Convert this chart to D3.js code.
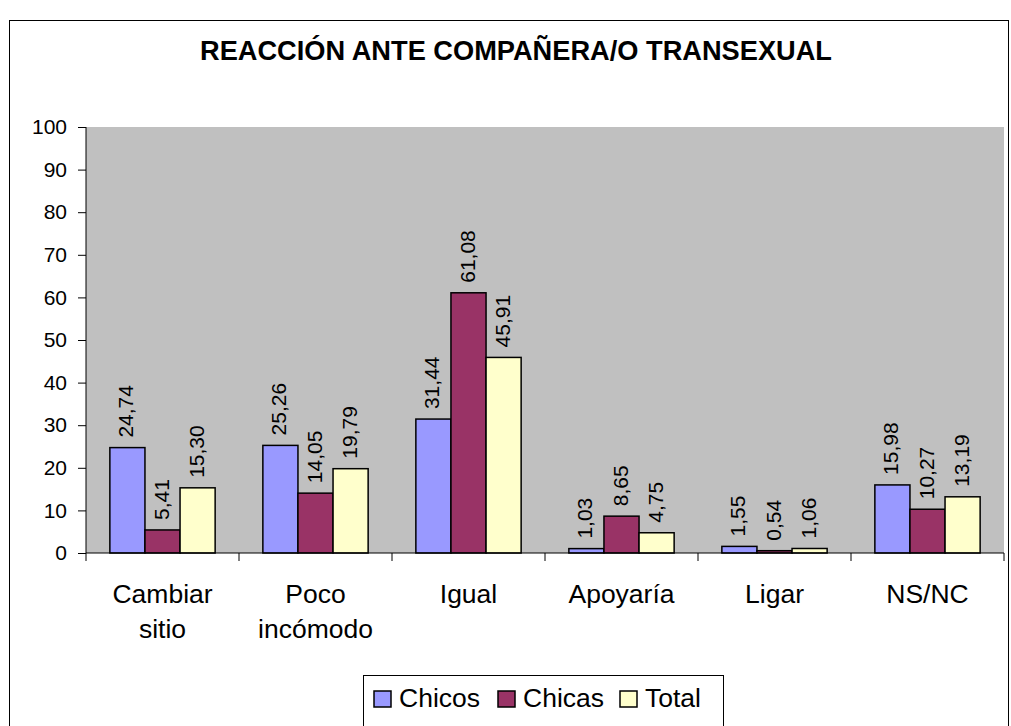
<!DOCTYPE html>
<html>
<head>
<meta charset="utf-8">
<script src="https://cdn.jsdelivr.net/npm/d3@7"></script>
<style>
  body { margin: 0; background: #fff; }
  svg { display: block; font-family: Arial, "Liberation Sans", sans-serif; }
</style>
</head>
<body>
<div id="chart"></div>
<script>
/* ── data ─────────────────────────────────────────────── */
const categories = [["Cambiar", "sitio"], ["Poco", "incómodo"], ["Igual"], ["Apoyaría"], ["Ligar"], ["NS/NC"]];
const seriesNames = ["Chicos", "Chicas", "Total"];
const chicos = [24.74, 25.26, 31.44, 1.03, 1.55, 15.98];
const chicas = [5.41, 14.05, 61.08, 8.65, 0.54, 10.27];
const total  = [15.30, 19.79, 45.91, 4.75, 1.06, 13.19];
const yTicks = [0, 10, 20, 30, 40, 50, 60, 70, 80, 90, 100];
const colors = ["#9999FF", "#993366", "#FFFFCC"];

const W = 1011, H = 726;
const plot = { left: 86, top: 127, right: 1004, bottom: 553 };
const FONT = "Arial, 'Liberation Sans', sans-serif";

const svg = d3.select("#chart").append("svg")
  .attr("width", W).attr("height", H);

// outer chart border
svg.append("rect")
  .attr("x", 9.5).attr("y", 20.5)
  .attr("width", W - 12).attr("height", H)
  .attr("fill", "#fff").attr("stroke", "#000").attr("stroke-width", 1);

svg.append("text")
  .attr("x", 516).attr("y", 60)
  .attr("text-anchor", "middle")
  .attr("font-size", 27).attr("font-weight", "bold")
  .attr("textLength", 632).attr("lengthAdjust", "spacingAndGlyphs")
  .text("REACCIÓN ANTE COMPAÑERA/O TRANSEXUAL");

/* ── scales ───────────────────────────────────────────── */
const x = d3.scaleBand()
  .domain(d3.range(categories.length))
  .range([plot.left, plot.right]);

const xInner = d3.scaleBand()
  .domain(d3.range(seriesNames.length))
  .range([0, x.bandwidth()])
  .paddingOuter(0.68).paddingInner(0);

const y = d3.scaleLinear().domain([0, 100]).range([plot.bottom, plot.top]);

// plot background
svg.append("rect")
  .attr("x", plot.left).attr("y", plot.top)
  .attr("width", plot.right - plot.left).attr("height", plot.bottom - plot.top)
  .attr("fill", "#C0C0C0");

/* ── bars ─────────────────────────────────────────────── */
const series = [chicos, chicas, total];
const groups = svg.append("g").selectAll("g")
  .data(categories)
  .join("g")
  .attr("transform", (d, i) => `translate(${x(i)},0)`);

groups.selectAll("rect")
  .data((d, i) => series.map((s, k) => ({ k, v: s[i] })))
  .join("rect")
  .attr("x", d => xInner(d.k))
  .attr("y", d => y(d.v))
  .attr("width", xInner.bandwidth())
  .attr("height", d => plot.bottom - y(d.v))
  .attr("fill", d => colors[d.k])
  .attr("stroke", "#000").attr("stroke-width", 1.5);

groups.selectAll("text.val")
  .data((d, i) => series.map((s, k) => ({ k, v: s[i] })))
  .join("text")
  .attr("class", "val")
  .attr("font-size", 21)
  .attr("transform", d => `translate(${xInner(d.k) + xInner.bandwidth() / 2 + 6},${y(d.v) - 10}) rotate(-90)`)
  .text(d => d.v.toFixed(2).replace(".", ","));

/* ── axes ─────────────────────────────────────────────── */
const yAxis = svg.append("g")
  .attr("transform", `translate(${plot.left},0)`)
  .call(d3.axisLeft(y).tickValues(yTicks).tickSize(8).tickPadding(11));
yAxis.select(".domain").attr("stroke", "#000").attr("d", `M0,${plot.top}V${plot.bottom}`);
yAxis.selectAll("text").attr("font-size", 21).attr("font-family", FONT).attr("fill", "#000");

const xAxis = svg.append("g")
  .attr("transform", `translate(0,${plot.bottom})`);
xAxis.append("line")
  .attr("x1", plot.left).attr("x2", plot.right)
  .attr("stroke", "#000");
xAxis.selectAll("line.tick")
  .data(d3.range(categories.length + 1))
  .join("line")
  .attr("class", "tick")
  .attr("x1", i => i < categories.length ? x(i) : plot.right)
  .attr("x2", i => i < categories.length ? x(i) : plot.right)
  .attr("y1", 0).attr("y2", 8)
  .attr("stroke", "#000");

const xl = xAxis.selectAll("text")
  .data(categories)
  .join("text")
  .attr("text-anchor", "middle")
  .attr("font-size", 26.5)
  .attr("transform", (d, i) => `translate(${x(i) + x.bandwidth() / 2},50)`);
xl.selectAll("tspan")
  .data(d => d)
  .join("tspan")
  .attr("x", 0)
  .attr("dy", (d, j) => j === 0 ? 0 : 35)
  .text(d => d);

/* ── legend ───────────────────────────────────────────── */
const legend = svg.append("g").attr("transform", "translate(363,675)");
legend.append("rect")
  .attr("x", 0.5).attr("y", 0.5).attr("width", 360).attr("height", 52)
  .attr("fill", "#fff").attr("stroke", "#000");
const itemX = [11, 135, 257];
const items = legend.selectAll("g.item")
  .data(seriesNames)
  .join("g")
  .attr("class", "item")
  .attr("transform", (d, i) => `translate(${itemX[i]},0)`);
items.append("rect")
  .attr("x", 0).attr("y", 16).attr("width", 17).attr("height", 16)
  .attr("fill", (d, i) => colors[i]).attr("stroke", "#000").attr("stroke-width", 1.5);
items.append("text")
  .attr("x", 25).attr("y", 32)
  .attr("font-size", 26.5)
  .text(d => d);
</script>
</body>
</html>
